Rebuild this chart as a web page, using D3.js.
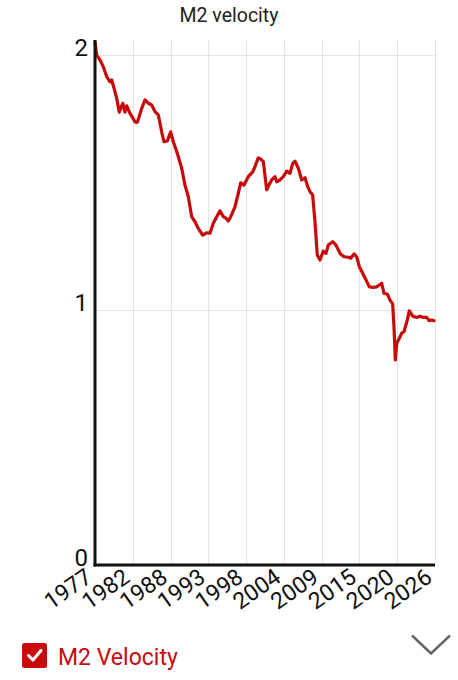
<!DOCTYPE html>
<html>
<head>
<meta charset="utf-8">
<script src="https://cdn.jsdelivr.net/npm/d3@7/dist/d3.min.js"></script>
<style>
  html, body { margin: 0; padding: 0; background: #fff; }
  svg { display: block; font-family: Roboto, "Noto Sans", sans-serif; }
</style>
</head>
<body>
<script>
// ---- data ----
const title = "M2 velocity";
const seriesName = "M2 Velocity";
const years = [1977.25,1977.49,1977.97,1978.44,1978.93,1979.40,1979.64,1979.97,1980.36,1980.73,
  1981.22,1981.55,1981.80,1982.27,1982.99,1983.32,1983.95,1984.42,1984.89,1985.38,
  1985.85,1986.33,1986.81,1987.14,1987.62,1988.10,1988.48,1989.05,1989.68,1990.15,
  1990.63,1991.11,1991.59,1992.06,1992.69,1993.27,1993.74,1994.21,1994.70,1995.17,
  1995.65,1996.03,1996.36,1996.71,1997.32,1997.80,1998.14,1998.61,1999.23,1999.86,
  2000.19,2000.66,2001.01,2001.38,2001.87,2002.24,2002.59,2003.06,2003.30,2003.78,
  2004.25,2004.74,2005.21,2005.60,2005.93,2006.40,2006.89,2007.36,2007.75,2008.08,
  2008.46,2008.79,2009.12,2009.51,2009.98,2010.37,2010.70,2011.33,2011.80,2012.38,
  2012.95,2013.57,2013.91,2014.39,2014.77,2015.15,2015.63,2016.11,2016.58,2017.15,
  2017.64,2018.01,2018.36,2018.69,2019.16,2019.55,2019.93,2020.12,2020.31,2020.51,
  2020.88,2021.22,2021.55,2022.03,2022.32,2022.80,2023.38,2023.85,2024.32,2024.81,
  2025.18,2025.53,2025.86];
const velocity = [2.052,2.000,1.980,1.954,1.915,1.895,1.902,1.871,1.830,1.776,
  1.811,1.776,1.801,1.771,1.738,1.736,1.791,1.824,1.811,1.804,
  1.778,1.765,1.699,1.660,1.663,1.699,1.660,1.615,1.556,1.490,
  1.444,1.366,1.346,1.320,1.294,1.303,1.301,1.340,1.366,1.389,
  1.366,1.360,1.349,1.366,1.405,1.458,1.499,1.490,1.523,1.542,
  1.562,1.597,1.592,1.582,1.471,1.493,1.510,1.523,1.503,1.510,
  1.523,1.545,1.536,1.575,1.584,1.556,1.510,1.519,1.484,1.464,
  1.451,1.346,1.216,1.196,1.231,1.222,1.255,1.268,1.255,1.222,
  1.209,1.207,1.203,1.220,1.209,1.170,1.144,1.118,1.091,1.089,
  1.091,1.098,1.105,1.065,1.063,1.039,1.024,0.935,0.804,0.869,
  0.889,0.909,0.915,0.961,0.997,0.976,0.971,0.976,0.971,0.971,
  0.958,0.961,0.958];
const xTickLabels = ["1977","1982","1988","1993","1998","2004","2009","2015","2020","2026"];
const yTickValues = [0, 1, 2];
const xDomain = [1977.25, 2026.0];
const yDomain = [0, 2.059];

// ---- layout ----
const W = 458, H = 680;
const mLeft = 95, mRight = 435, mTop = 40, mBottom = 565;
const red = "#c80a0a";

const svg = d3.select("body").append("svg").attr("width", W).attr("height", H);

const x = d3.scaleLinear().domain(xDomain).range([mLeft, mRight]);
const y = d3.scaleLinear().domain(yDomain).range([mBottom, mTop]);

const n = xTickLabels.length;
const xTickValues = d3.range(n).map(i => xDomain[0] + i * (xDomain[1] - xDomain[0]) / (n - 1));

// title
svg.append("text").attr("x", 229).attr("y", 22).attr("text-anchor", "middle")
  .attr("font-size", 19.5).attr("fill", "#222").text(title);

// grid
const grid = svg.append("g").attr("stroke", "#e4e4e4").attr("stroke-width", 1);
grid.selectAll("line.v").data(xTickValues.slice(1)).enter().append("line")
  .attr("x1", d => Math.round(x(d)) + 0.5).attr("x2", d => Math.round(x(d)) + 0.5)
  .attr("y1", mTop).attr("y2", mBottom);
grid.selectAll("line.h").data(yTickValues.filter(v => v > 0)).enter().append("line")
  .attr("x1", mLeft).attr("x2", mRight)
  .attr("y1", d => Math.round(y(d)) + 0.5).attr("y2", d => Math.round(y(d)) + 0.5);

// line
const line = d3.line().x((d, i) => x(years[i])).y(d => y(d)).curve(d3.curveLinear);
svg.append("path").datum(velocity).attr("d", line)
  .attr("fill", "none").attr("stroke", red).attr("stroke-width", 3.2)
  .attr("stroke-linejoin", "round").attr("stroke-linecap", "round");

// y axis
const yAxis = d3.axisLeft(y).tickValues(yTickValues).tickFormat(d3.format("d")).tickSize(0);
const gy = svg.append("g").attr("transform", `translate(${mLeft},0)`).call(yAxis);
gy.select(".domain").remove();
gy.selectAll("text").attr("font-size", 24).attr("fill", "#111")
  .attr("font-family", "Roboto, sans-serif")
  .attr("x", -7).attr("dy", 0).attr("text-anchor", "end");

// x axis
const xAxis = d3.axisBottom(x).tickValues(xTickValues).tickFormat((d, i) => xTickLabels[i]).tickSize(0);
const gx = svg.append("g").attr("transform", `translate(0,${mBottom})`).call(xAxis);
gx.select(".domain").remove();
gx.selectAll("text").attr("font-size", 23).attr("fill", "#111")
  .attr("font-family", "Roboto, sans-serif")
  .attr("text-anchor", "end").attr("x", 0).attr("y", 0).attr("dy", 0)
  .attr("transform", "translate(-2,15.5) rotate(-35)");

// axis lines
svg.append("line").attr("x1", mLeft).attr("x2", mLeft).attr("y1", mTop).attr("y2", mBottom + 1.5)
  .attr("stroke", "#111").attr("stroke-width", 3);
svg.append("line").attr("x1", mLeft - 1.5).attr("x2", mRight).attr("y1", mBottom).attr("y2", mBottom)
  .attr("stroke", "#111").attr("stroke-width", 3);

// legend
const lg = svg.append("g");
lg.append("rect").attr("x", 22).attr("y", 643).attr("width", 25).attr("height", 25)
  .attr("rx", 2.5).attr("fill", red);
lg.append("path").attr("d", "M28.5,655.5 L33,660 L41,650.5")
  .attr("fill", "none").attr("stroke", "#fff").attr("stroke-width", 3)
  .attr("stroke-linecap", "round").attr("stroke-linejoin", "round");
lg.append("text").attr("x", 58).attr("y", 665).attr("font-size", 23)
  .attr("fill", red).text(seriesName);

// chevron
svg.append("path").attr("d", "M412,635.5 L431,653.5 L450,635.5")
  .attr("fill", "none").attr("stroke", "#666").attr("stroke-width", 2.5);
</script>
</body>
</html>
